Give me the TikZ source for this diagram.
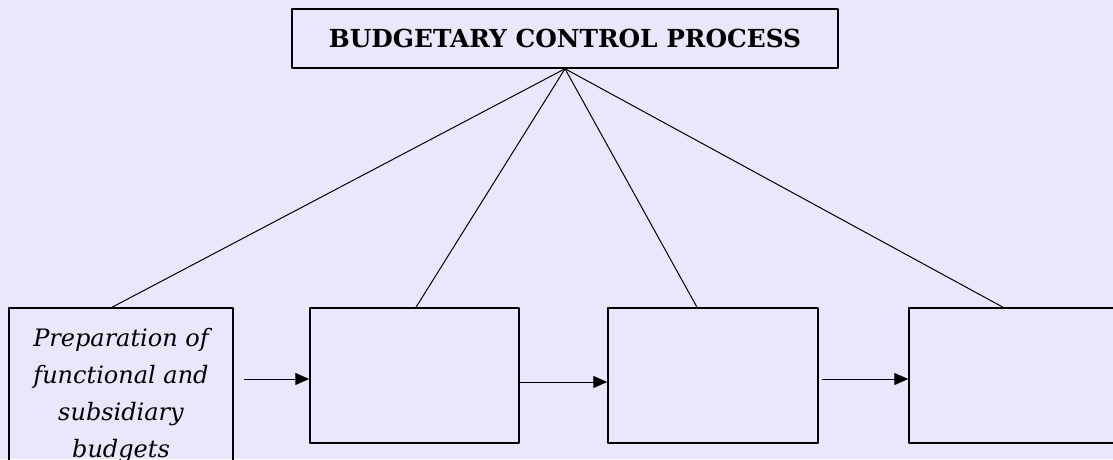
\documentclass[tikz,border=0pt]{standalone}
\usepackage{fontspec}
\setmainfont{DejaVu Serif}
\usetikzlibrary{arrows.meta}
\definecolor{bgpaper}{RGB}{234,230,252}

\begin{document}
\begin{tikzpicture}[>={Triangle[length=14pt,width=12pt]},x=1pt,y=-1pt,line join=bevel,
  stepbox/.style={draw,line width=1.5pt,inner sep=0pt,align=center},
  link/.style={line width=1pt}]
\useasboundingbox[fill=bgpaper] (0,0) rectangle (1113,459);
%%
\node (title) at (565,38.5) [stepbox,minimum width=546pt,minimum height=59pt,font=\bfseries\fontsize{24.8}{28}\selectfont] {BUDGETARY CONTROL PROCESS};
  \node (prep) at (121,396) [stepbox,minimum width=224pt,minimum height=176pt,font=\itshape\fontsize{24}{37}\selectfont] {Preparation of\\ functional and\\ subsidiary\\ budgets};
  \node (box_2) at (414.5,375.5) [stepbox,minimum width=209pt,minimum height=135pt] {};
  \node (box_3) at (713,375.5) [stepbox,minimum width=210pt,minimum height=135pt] {};
  \node (box_4) at (1019,375.5) [stepbox,minimum width=220pt,minimum height=135pt] {};
  \coordinate (in_2) at ([yshift=-3.5pt]box_2.west);
  \coordinate (in_3) at ([yshift=-6.5pt]box_3.west);
  \coordinate (in_4) at ([yshift=-3.5pt]box_4.west);
  \draw [link] (title.south) -- ([xshift=-9pt]prep.north);
  \draw [link] (title.south) -- ([xshift=1.5pt]box_2.north);
  \draw [link] (title.south) -- ([xshift=-16pt]box_3.north);
  \draw [link] (title.south) -- ([xshift=-16pt]box_4.north);
  \draw [link,->,shorten <=10pt] (prep.east |- in_2) -- (in_2);
  \draw [link,->] (box_2.east |- in_3) -- (in_3);
  \draw [link,->,shorten <=3pt] (box_3.east |- in_4) -- (in_4);
%
\end{tikzpicture}
\end{document}
